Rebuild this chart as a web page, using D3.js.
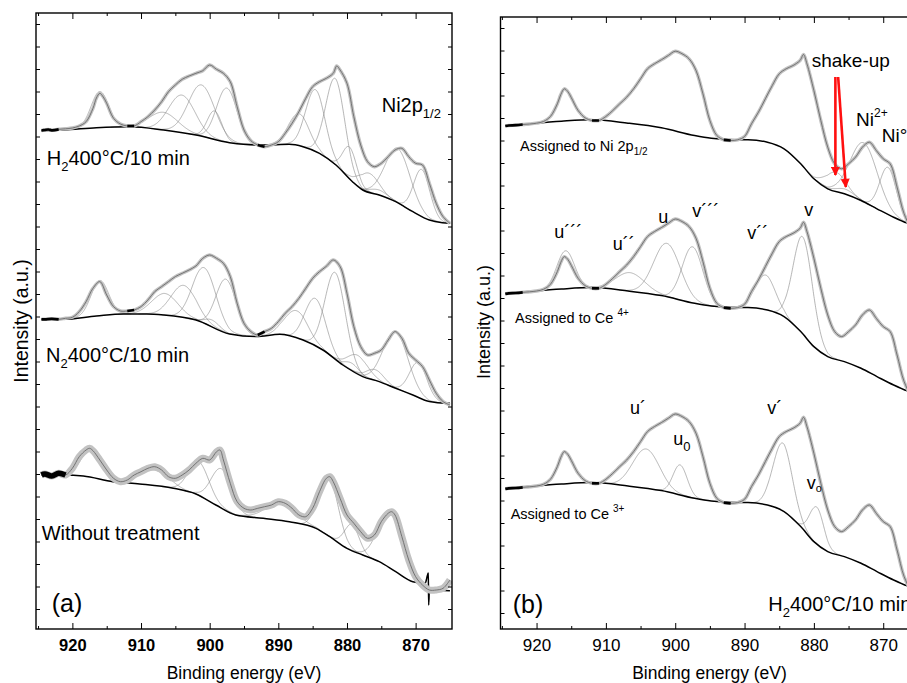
<!DOCTYPE html>
<html>
<head>
<meta charset="utf-8">
<script src="https://cdn.jsdelivr.net/npm/d3@7"></script>
<style>
body { margin: 0; background: #fff; }
text { font-family: "Liberation Sans", Arial, sans-serif; fill: #000; }
</style>
</head>
<body>
<svg id="chart" width="907" height="683"></svg>
<script>
// ---- data (binding energy eV, intensity a.u. relative to the left baseline of each trace) ----
const energyTicks = [920, 910, 900, 890, 880, 870];
const minorTicks = [925, 915, 905, 895, 885, 875];

// panel (a), H2 400°C/10 min
const h2aSpectrum = [[924.5,-0.5],[924,0],[923.5,0.5],[923,-0.3],[922,0.7],[921,1.2],[920,2],[919,4],[918,8.3],[917,21.7],[916.5,32],[916,36.7],[915.5,33],[915,26.7],[914,11.7],[913,6],[912,4],[911,4],[910,8.3],[909,13.3],[908,20],[907,28.3],[906,38.3],[905,45],[904,50.7],[903,54],[902,56.7],[901,59.3],[900,65],[899,60.7],[898,56.7],[897,48.3],[896,23.3],[895,0],[894,-10.7],[893,-15],[892,-16.7],[891,-15],[890,-11.7],[889,-3.3],[888,6.7],[887,18.3],[886,31.7],[885,43.3],[884,48.3],[883,51.7],[882,56.7],[881.5,64],[881,60],[880,46.7],[879,13.3],[878,-15],[877,-31.7],[876,-36.7],[875,-33.3],[874,-26.7],[873,-20],[872,-18.3],[871,-26.7],[870,-33.3],[869,-35],[868,-53.3],[867,-73.3],[866,-86.7],[865,-93.3]];
const h2aBackground = [[924.5,-0.7],[921.3,0],[916.5,2.3],[911.6,3.3],[906.7,0],[902,-5],[897.1,-12.7],[895.1,-14.3],[892.2,-15],[888.4,-14.3],[886.4,-16.7],[884,-23.3],[881.6,-35],[879.2,-51.7],[877.7,-60],[875.3,-65],[872.9,-71.7],[870.4,-81.7],[868,-90],[866.1,-92.7],[865,-93.3]];
const h2aComponents = [[916.0,36,3.0],[906.75,17.7,5],[904.06,37.7,4.5],[901.2,51.3,4.5],[899.3,28.3,2.5],[897.5,54,3.5],[887.0,32.3,3.5],[884.6,62,3.3],[881.7,86,3.3],[879.6,31.7,2.4],[876.8,18.7,3.5],[875.3,5,3],[872.6,54.3,4.3],[869.1,46.7,2.8]];

// panel (a), N2 400°C/10 min
const n2Spectrum = [[924.5,0],[924,0],[923,0.5],[922,0],[921,1],[920,2],[919,7.7],[918,17.7],[917,31],[916,37.7],[915,24.3],[914,12.7],[913,8.3],[912,8.3],[911,9.3],[910,12.7],[909,19.3],[908,27.7],[907,32.7],[906,37.7],[905,42.7],[904,46],[903,49.3],[902,53.3],[901,61],[900,64.3],[899,61],[898,56],[897,42.7],[896,16],[895,-4],[894,-12.3],[893,-15.7],[892,-12.3],[891,-9],[890,-2.3],[889,6],[888,12.7],[887,21],[886,31],[885,41],[884,47.7],[883,53],[882,59.3],[881,52.7],[880,26],[879,-7.3],[878,-27.3],[877,-35.7],[876,-34],[875,-30.7],[874,-20.7],[873,-12.3],[872,-19],[871,-34],[870,-40.7],[869,-47.3],[868,-60.7],[867,-74],[866,-82.3],[865,-85.7]];
const n2Background = [[924.5,0],[921.3,0],[916.5,3.3],[912.6,5.3],[909.2,5.3],[906.7,4.3],[902,-0.7],[897.1,-14.7],[893.2,-17.3],[889.8,-15],[886.4,-20.7],[883.5,-30.7],[880.6,-45.7],[877.7,-57.3],[875.3,-62.3],[872.9,-69],[870.4,-75.7],[868,-82.3],[865.6,-84],[865,-84]];
const n2Components = [[916.0,35.3,3],[906.5,21.7,4.5],[903.8,32.7,4.3],[900.8,55.7,4],[899.7,6.7,2.5],[897.6,53.3,3.5],[887.4,27.7,4],[884.6,47.7,3.5],[881.7,86.7,3.5],[879.3,7,2.5],[878.4,18.3,3.5],[875.9,10.7,3],[872.9,56.7,4.2],[869.6,34.7,3]];

// panel (a), without treatment
const rawSpectrum = [[924.5,0],[924,1],[923,-1],[922,1.7],[921,0],[920,6.7],[919,18.3],[918,25],[917.5,26.7],[917,24.3],[916,15],[915,5],[914,-3.3],[913,-6.7],[912,-5],[911,0],[910,3.3],[909,6.7],[908,8.3],[907,5],[906,-1.7],[905,-3.3],[904,0],[903,5],[902,11.7],[901,16.7],[900,15],[899,23.3],[898.5,25],[898,15],[897,-8.3],[896,-26.7],[895,-33.3],[894,-35],[893,-33.3],[892,-31.7],[891,-30],[890,-26.7],[889,-28.3],[888,-33.3],[887,-40],[886,-41.7],[885,-33.3],[884,-16.7],[883,-3.3],[882.5,-1.7],[882,-6.7],[881,-23.3],[880,-40],[879,-48.3],[878,-56.7],[877,-63.3],[876,-60],[875,-46.7],[874,-38.3],[873.5,-36.7],[873,-40],[872,-61.7],[871,-85],[870,-101.7],[869,-110],[868,-115],[867,-115],[866,-113.3],[865,-105]];
const rawBackground = [[924.5,0],[921.3,0],[918.4,-1],[914.1,-6.7],[910.2,-9],[905.3,-13.3],[902,-19],[899.1,-30],[896.2,-40],[892.2,-43.3],[888.4,-46.7],[884.5,-53.3],[882.5,-61.7],[880,-73.3],[877.7,-80],[875.3,-86.7],[872.9,-96.7],[870.4,-106.7],[868.6,-108.3],[868.15,-98],[868.1,-130],[868.0,-115],[865,-115.7]];
const rawComponents = [[917.2,28,3.5],[908.1,15.7,5],[901.6,34,3.5],[898.3,39,3.5],[889.5,19,5],[882.7,60,3.3],[879.3,26,2.5],[873.7,58,4]];

// panel (b), H2 400°C/10 min (same spectrum shown three times)
const h2bSpectrum = [[924.5,-0.5],[924,0],[923,0.3],[922,1],[921,1.5],[920,2.3],[919,4],[918,9],[917,21.7],[916.5,31],[916,36.7],[915.5,34],[915,28],[914,15],[913,7.7],[912,5],[911,5],[910,9],[909,15],[908,21.7],[907,28.3],[906,36.7],[905,46.7],[904,56.7],[903,61.7],[902,65.7],[901,70],[900,74.3],[899,71.7],[898,66.7],[897,55],[896,31.7],[895,5],[894,-10],[893,-14.3],[892,-15],[891,-14.3],[890,-11],[889,1.7],[888,13.3],[887,26.7],[886,40],[885,51.7],[884,56.7],[883,60],[882,65],[881.5,71],[881,61.7],[880,35],[879,5],[878,-21.7],[877,-38.3],[876,-43.3],[875,-38.3],[874,-31.7],[873,-21.7],[872,-16.7],[871,-25],[870,-33.3],[869,-38.3],[868,-61.7],[867,-88],[866,-101.7],[865,-108]];
const h2bBackground = [[924.5,-0.3],[924,0],[921.2,1.7],[916.4,4.3],[912.1,5.7],[906.8,2.3],[902,-2.3],[897.2,-10],[894.8,-12.7],[892.4,-14],[889.5,-14.3],[886.7,-16.7],[884.3,-23.3],[881.9,-38.3],[880,-53.3],[878,-63.3],[875.6,-68.3],[873.2,-75],[870.9,-83.3],[868.5,-91.7],[866.5,-97.7],[865,-101]];
const niComponents = [[876.8,19,3.5],[875.4,5,3],[872.8,59,4.6],[869.3,47,2.8]];
const ce4Components = [[915.8,38,3.0],[906.5,18.6,5],[901.2,53.5,4.5],[897.5,56,3.5],[887.0,34.7,3.5],[881.6,97,3.3]];
const ce3Components = [[904.2,39.5,4.5],[899.3,30,2.4],[884.5,68,3.3],[879.6,36.6,2.4]];

// energy windows where the raw trace is shown in black (fit limits)
const fitEdges = [[924.6,921.4],[912.0,911.0],[893.4,891.4]];
const rawFitEdges = [[924.6,920.8]];

// shake-up arrows: [E start, I start, E end, I end] in panel (b) units
const shakeUpArrows = [[876.9,552,876.9,454],[876.5,552,875.4,442]];

// ---- drawing ----
const svg = d3.select("#chart");
const defs = svg.append("defs");
defs.append("marker").attr("id", "redhead")
  .attr("viewBox", "0 0 10 10").attr("refX", 9).attr("refY", 5)
  .attr("markerUnits", "userSpaceOnUse")
  .attr("markerWidth", 10).attr("markerHeight", 9).attr("orient", "auto")
  .append("path").attr("d", "M0,0L10,5L0,10Z").attr("fill", "#ff1010");

function makePanel(left, top, w, h, x, y, tickFont) {
  const g = svg.append("g").attr("transform", "translate(" + left + "," + top + ")");
  const id = "clip" + Math.round(left);
  defs.append("clipPath").attr("id", id).append("rect").attr("width", w).attr("height", h);
  const plot = g.append("g").attr("clip-path", "url(#" + id + ")");

  const bottom = g.append("g").attr("transform", "translate(0," + h + ")")
    .call(d3.axisBottom(x).tickValues(energyTicks).tickSizeInner(-6).tickSizeOuter(0)
      .tickPadding(10).tickFormat(d3.format("d")));
  bottom.selectAll("text")
    .style("font-family", "'Liberation Sans', Arial, sans-serif")
    .style("font-size", tickFont.size + "px")
    .style("font-weight", tickFont.weight);
  g.append("g").attr("transform", "translate(0," + h + ")")
    .call(d3.axisBottom(x).tickValues(minorTicks).tickSizeInner(-3).tickSizeOuter(0).tickFormat(""));
  g.append("g").call(d3.axisTop(x).tickValues(energyTicks).tickSizeInner(-6).tickSizeOuter(0).tickFormat(""));
  g.append("g").call(d3.axisTop(x).tickValues(minorTicks).tickSizeInner(-3).tickSizeOuter(0).tickFormat(""));
  const yt = d3.range(11, h, 22.5);
  g.append("g").call(d3.axisLeft(y).tickValues(yt.map(v => y.invert(v))).tickSizeInner(-4).tickSizeOuter(0).tickFormat(""));
  g.append("g").attr("transform", "translate(" + w + ",0)")
    .call(d3.axisRight(y).tickValues(yt.map(v => y.invert(v))).tickSizeInner(-4).tickSizeOuter(0).tickFormat(""));
  g.selectAll(".domain").remove();
  g.selectAll(".tick line").attr("stroke", "#000").attr("stroke-width", 1);
  g.append("rect").attr("width", w).attr("height", h)
    .attr("fill", "none").attr("stroke", "#000").attr("stroke-width", 1.4);
  return { g: g, plot: plot };
}

function drawTrace(plot, x, y, spec, bg, comps, offset, band, edges) {
  const bgScale = d3.scaleLinear().domain(bg.map(d => d[0])).range(bg.map(d => d[1])).clamp(true);
  const line = d3.line().x(d => x(d[0])).y(d => y(offset + d[1]));

  comps.forEach(function (c) {
    const mu = c[0], hgt = c[1], s = c[2] / 2.3548;
    const pts = d3.range(mu + 3.6 * s, mu - 3.6 * s, -0.05)
      .map(e => [e, bgScale(e) + hgt * Math.exp(-0.5 * Math.pow((e - mu) / s, 2))]);
    plot.append("path").datum(pts).attr("d", line)
      .attr("fill", "none").attr("stroke", "#858585").attr("stroke-width", 0.6);
  });

  plot.append("path").datum(bg).attr("d", line.curve(d3.curveMonotoneX))
    .attr("fill", "none").attr("stroke", "#000").attr("stroke-width", 1.5);

  const sline = d3.line().x(d => x(d[0])).y(d => y(offset + d[1])).curve(d3.curveCatmullRom);
  plot.append("path").datum(spec).attr("d", sline)
    .attr("fill", "none").attr("stroke", "#c2c2c2").attr("stroke-width", band)
    .attr("stroke-linejoin", "round");
  plot.append("path").datum(spec).attr("d", sline)
    .attr("fill", "none").attr("stroke", "#6a6a6a").attr("stroke-width", 0.9);

  edges.forEach(function (r) {
    const seg = spec.filter(d => d[0] <= r[0] && d[0] >= r[1]);
    if (seg.length > 1) {
      plot.append("path").datum(seg).attr("d", sline)
        .attr("fill", "none").attr("stroke", "#000").attr("stroke-width", band * 0.8);
    }
  });
}

function addText(g, x, y, size, parts) {
  const t = g.append("text").attr("x", x).attr("y", y).style("font-size", size + "px");
  parts.forEach(function (p) {
    const ts = t.append("tspan").text(p[0]);
    if (p[1]) ts.style("font-size", p[1] + "px");
    if (p[2]) ts.attr("dy", p[2]);
  });
  return t;
}

// ---- panel (a) ----
const wA = 416, hA = 616;
const xA = d3.scaleLinear().domain([925.3, 864.7]).range([0, wA]);
const yA = d3.scaleLinear().domain([0, hA]).range([hA, 0]);
const pA = makePanel(36, 13, wA, hA, xA, yA, { size: 16.5, weight: "bold" });

drawTrace(pA.plot, xA, yA, h2aSpectrum, h2aBackground, h2aComponents, 499, 3.4, fitEdges);
drawTrace(pA.plot, xA, yA, n2Spectrum, n2Background, n2Components, 309.7, 3.4, fitEdges);
drawTrace(pA.plot, xA, yA, rawSpectrum, rawBackground, rawComponents, 154, 7, rawFitEdges);

addText(pA.g, 10.7, 152, 20, [["H"], ["2", 13, 6], ["400°C/10 min", 20, -6]]);
addText(pA.g, 345.7, 99.3, 20, [["Ni2p"], ["1/2", 13, 6]]);
addText(pA.g, 10, 348.7, 20, [["N"], ["2", 13, 6], ["400°C/10 min", 20, -6]]);
addText(pA.g, 5.7, 527, 20, [["Without treatment"]]);
addText(pA.g, 15.7, 599, 25, [["(a)"]]);

svg.append("text").attr("transform", "translate(28,321) rotate(-90)")
  .attr("text-anchor", "middle").style("font-size", "19.5px").text("Intensity (a.u.)");
svg.append("text").attr("x", 244).attr("y", 679)
  .attr("text-anchor", "middle").style("font-size", "17.5px").text("Binding energy (eV)");

// ---- panel (b) ----
const wB = 416, hB = 612;
const xB = d3.scaleLinear().domain([925.2, 865.2]).range([0, wB]);
const yB = d3.scaleLinear().domain([0, hB]).range([hB, 0]);
const pB = makePanel(500.5, 17, wB, hB, xB, yB, { size: 17, weight: "normal" });

drawTrace(pB.plot, xB, yB, h2bSpectrum, h2bBackground, niComponents, 503.5, 3.4, fitEdges);
drawTrace(pB.plot, xB, yB, h2bSpectrum, h2bBackground, ce4Components, 335.7, 3.4, fitEdges);
drawTrace(pB.plot, xB, yB, h2bSpectrum, h2bBackground, ce3Components, 140.7, 3.4, fitEdges);

shakeUpArrows.forEach(function (a) {
  pB.g.append("line")
    .attr("x1", xB(a[0])).attr("y1", yB(a[1]))
    .attr("x2", xB(a[2])).attr("y2", yB(a[3]))
    .attr("stroke", "#ff1010").attr("stroke-width", 2.6)
    .attr("marker-end", "url(#redhead)");
});

addText(pB.g, 19.5, 133.7, 14.5, [["Assigned to Ni 2p"], ["1/2", 10, 4]]);
addText(pB.g, 311.2, 49.7, 19, [["shake-up"]]);
addText(pB.g, 355.5, 109, 19, [["Ni"], ["2+", 12, -9]]);
addText(pB.g, 381.2, 124.7, 19, [["Ni°"]]);
addText(pB.g, 53.8, 221.3, 18, [["u´´´"]]);
addText(pB.g, 112.2, 233, 18, [["u´´"]]);
addText(pB.g, 157.8, 205.7, 18, [["u"]]);
addText(pB.g, 191.8, 200.3, 18, [["v´´´"]]);
addText(pB.g, 246.8, 222.3, 18, [["v´´"]]);
addText(pB.g, 303.8, 199, 18, [["v"]]);
addText(pB.g, 14.5, 306.3, 14.5, [["Assigned to Ce "], ["4+", 10, -7]]);
addText(pB.g, 129.5, 397, 18, [["u´"]]);
addText(pB.g, 172.8, 428, 18, [["u"], ["0", 13, 6]]);
addText(pB.g, 266.8, 397, 18, [["v´"]]);
addText(pB.g, 306.2, 472.3, 18, [["v"], ["o", 11, 3]]);
addText(pB.g, 10.2, 502, 14.5, [["Assigned to Ce "], ["3+", 10, -7]]);
addText(pB.g, 12.2, 596, 25, [["(b)"]]);
addText(pB.g, 267.8, 593.7, 20, [["H"], ["2", 13, 6], ["400°C/10 min", 20, -6]]);

svg.append("text").attr("transform", "translate(490,322) rotate(-90)")
  .attr("text-anchor", "middle").style("font-size", "18px").text("Intensity (a.u.)");
svg.append("text").attr("x", 709.5).attr("y", 679)
  .attr("text-anchor", "middle").style("font-size", "17.5px").text("Binding energy (eV)");
</script>
</body>
</html>
